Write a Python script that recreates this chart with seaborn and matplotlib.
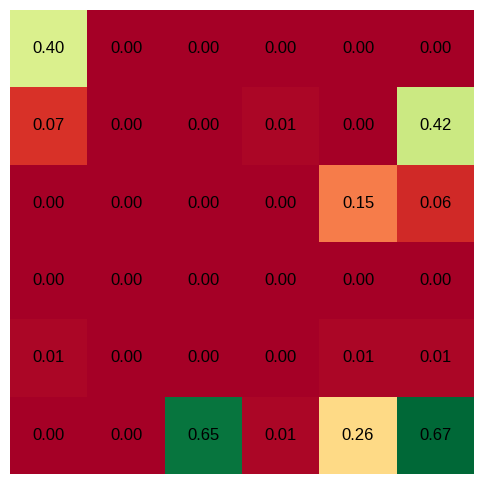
import numpy as np
import pandas as pd
import matplotlib
matplotlib.use("Agg")
import matplotlib.pyplot as plt
import seaborn as sns

# Heatmap values, one list per row (top to bottom)
row1 = [0.40, 0.00, 0.00, 0.00, 0.00, 0.00]
row2 = [0.07, 0.00, 0.00, 0.01, 0.00, 0.42]
row3 = [0.00, 0.00, 0.00, 0.00, 0.15, 0.06]
row4 = [0.00, 0.00, 0.00, 0.00, 0.00, 0.00]
row5 = [0.01, 0.00, 0.00, 0.00, 0.01, 0.01]
row6 = [0.00, 0.00, 0.65, 0.01, 0.26, 0.67]

data = pd.DataFrame([row1, row2, row3, row4, row5, row6])

plt.rcParams['font.family'] = ['Liberation Sans', 'DejaVu Sans']

fig = plt.figure(figsize=(4.84, 4.84), dpi=100)
ax = fig.add_axes([10 / 484, 10 / 484, 464 / 484, 464 / 484])

sns.heatmap(data, ax=ax, cmap='RdYlGn', vmin=0, vmax=data.values.max(),
            annot=True, fmt=".2f", cbar=False, square=True,
            annot_kws={"color": "black", "fontsize": 12},
            xticklabels=False, yticklabels=False)

ax.set_xlabel("")
ax.set_ylabel("")

fig.savefig("out.png", dpi=100)
plt.close(fig)
